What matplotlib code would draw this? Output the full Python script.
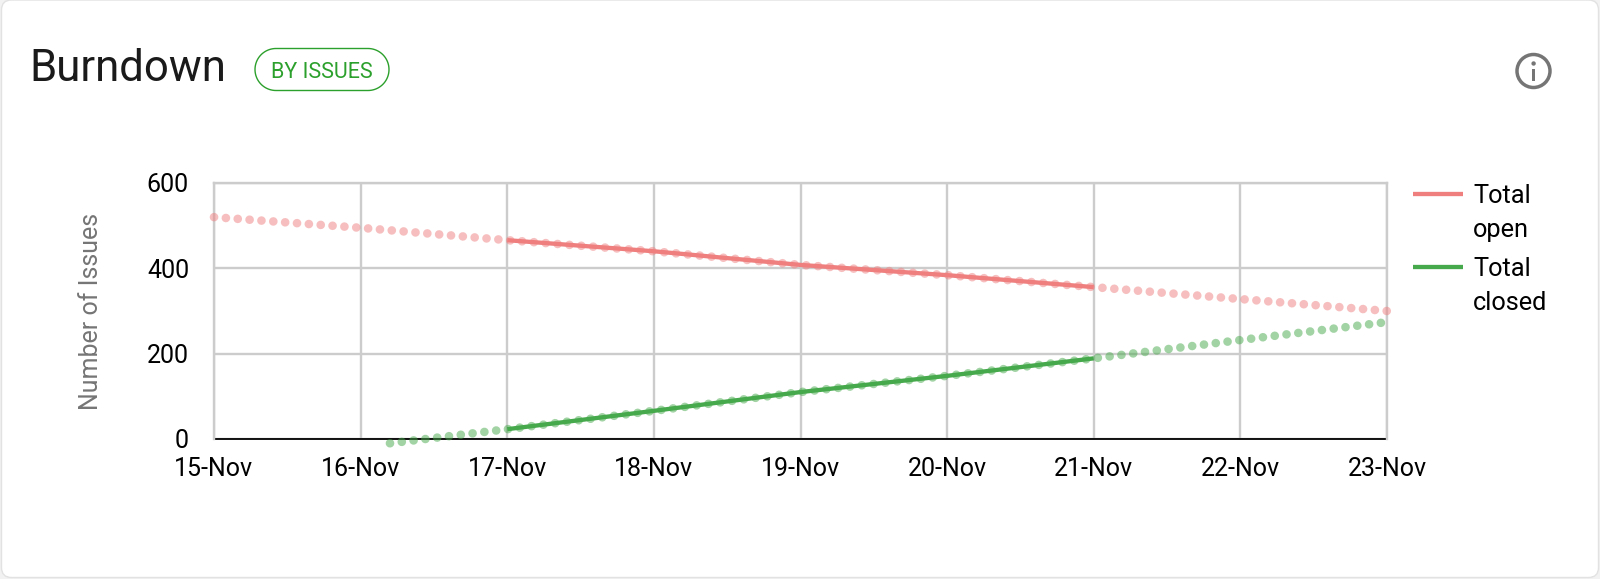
import numpy as np
import pandas as pd
import matplotlib
matplotlib.use('Agg')
import matplotlib.pyplot as plt
import matplotlib.dates as mdates
from matplotlib.patches import Circle, FancyBboxPatch, Polygon, Rectangle

plt.rcParams['font.family'] = ['Roboto', 'DejaVu Sans']

# values
open_dates = ['2018-11-15', '2018-11-16', '2018-11-17', '2018-11-18', '2018-11-19',
              '2018-11-20', '2018-11-21', '2018-11-22', '2018-11-23']
open_values = [520, 495, 466, 440, 408, 384, 356, 328, 300]

closed_dates = ['2018-11-16 04:48', '2018-11-17 00:00', '2018-11-18 00:00', '2018-11-19 00:00',
                '2018-11-20 00:00', '2018-11-21 00:00', '2018-11-22 00:00', '2018-11-23 00:00']
closed_values = [-10, 23, 66, 110, 148, 189, 232, 274]

actual_from = '2018-11-17'
actual_to = '2018-11-21'

y_ticks = [0, 200, 400, 600]

RED = '#ef7f7f'
GREEN = '#46a94c'
GRID = '#cccccc'

open_s = pd.Series(open_values, index=pd.to_datetime(open_dates))
closed_s = pd.Series(closed_values, index=pd.to_datetime(closed_dates))

fig = plt.figure(figsize=(16, 5.79), dpi=100, facecolor='#f2f2f2')

# card, title, badge, icon and legend in pixel coordinates
bg = fig.add_axes([0, 0, 1, 1])
bg.set_xlim(0, 1600)
bg.set_ylim(579, 0)
bg.axis('off')
bg.add_patch(FancyBboxPatch((1.5, 0), 1597, 577.5, boxstyle='round,pad=0,rounding_size=10',
                            fc='white', ec='#e2e2e2', lw=1))
bg.text(29, 81, 'Burndown', fontsize=31.5, color='#1a1a1a', va='baseline', ha='left')

# badge outline with true half circle ends
t = np.linspace(-np.pi / 2, np.pi / 2, 40)
pill_x = np.r_[368 + 21 * np.cos(t), 276 - 21 * np.cos(t)]
pill_y = np.r_[69.5 + 21 * np.sin(t), 69.5 - 21 * np.sin(t)]
bg.add_patch(Polygon(np.c_[pill_x, pill_y], closed=True, fc='white', ec='#2ca02c', lw=1))
bg.text(322, 77.5, 'BY ISSUES', fontsize=15.5, color='#2ca02c', va='baseline', ha='center')

bg.add_patch(Circle((1533.5, 71), 16.5, fc='none', ec='#757575', lw=2.5))
bg.add_patch(Rectangle((1531.8, 69), 3.6, 12, fc='#757575', ec='none'))
bg.add_patch(Circle((1533.6, 63.5), 2.2, fc='#757575', ec='none'))

ax = fig.add_axes([214 / 1600, 1 - 439 / 579, 1173 / 1600, 256 / 579])
ax.patch.set_alpha(0)

dot = dict(lw=6.2, linestyle=(0, (0.01, 1.37)), dash_capstyle='round', alpha=0.5,
           clip_on=False, zorder=3)
ax.plot(open_s.index, open_s.values, color=RED, **dot)
ax.plot(closed_s.index, closed_s.values, color=GREEN, **dot)

ax.plot(open_s[actual_from:actual_to].index, open_s[actual_from:actual_to].values,
        color=RED, lw=3.1, zorder=4, solid_capstyle='butt')
ax.plot(closed_s[actual_from:actual_to].index, closed_s[actual_from:actual_to].values,
        color=GREEN, lw=3.1, zorder=4, solid_capstyle='butt')

ax.set_xlim(open_s.index[0], open_s.index[-1])
ax.set_ylim(0, 600)
ax.set_yticks(y_ticks)
ax.xaxis.set_major_locator(mdates.DayLocator())
ax.xaxis.set_major_formatter(mdates.DateFormatter('%d-%b'))
ax.grid(True, color=GRID, lw=1.7)
ax.set_axisbelow(True)
ax.tick_params(length=0, labelsize=18, labelcolor='black')
ax.tick_params(axis='y', pad=18)
ax.tick_params(axis='x', pad=13)
for name in ['top', 'left', 'right']:
    ax.spines[name].set_color(GRID)
    ax.spines[name].set_linewidth(1.7)
ax.spines['bottom'].set_color('black')
ax.spines['bottom'].set_linewidth(1.3)
ax.spines['bottom'].set_zorder(2)

fig.text(91 / 1600, 1 - 311 / 579, 'Number of Issues', rotation=90, fontsize=18,
         color='#757575', ha='center', va='center')

# legend entries, swatch sits on the first line of each label
for y0, colour, lines in [(194, RED, ['Total', 'open']), (267, GREEN, ['Total', 'closed'])]:
    bg.plot([1413, 1463], [y0, y0], color=colour, lw=3.1, solid_capstyle='butt')
    for i, line in enumerate(lines):
        bg.text(1473, y0 + 9 + i * 34, line, fontsize=18.3, color='black', va='baseline', ha='left')
bg.set_xlim(0, 1600)
bg.set_ylim(579, 0)

fig.savefig('out.png', dpi=100, facecolor=fig.get_facecolor())
